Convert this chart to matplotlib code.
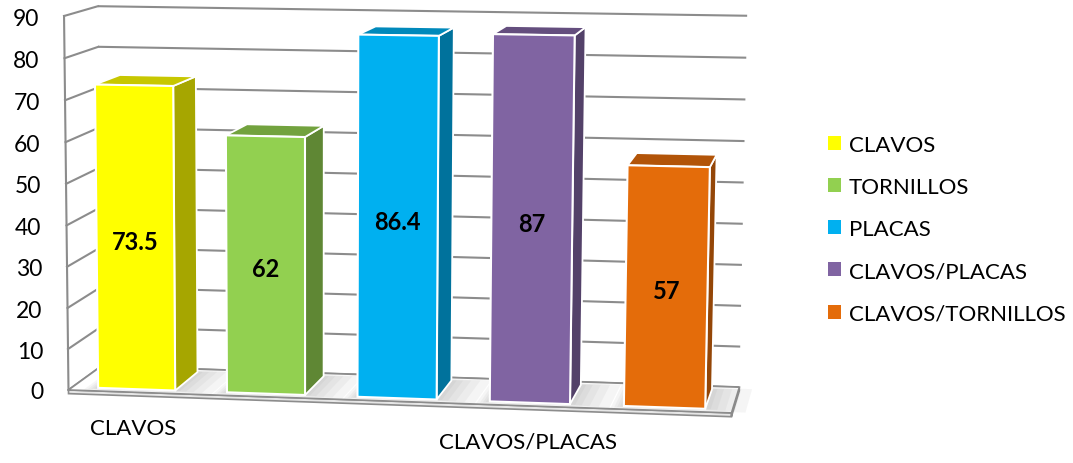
import numpy as np
import matplotlib
matplotlib.use("Agg")
import matplotlib.pyplot as plt
from matplotlib.patches import Polygon, Patch

# ---------------- data ----------------
series_names = ["CLAVOS", "TORNILLOS", "PLACAS", "CLAVOS/PLACAS", "CLAVOS/TORNILLOS"]
values = [73.5, 62, 86.4, 87, 57]
value_labels = ["73.5", "62", "86.4", "87", "57"]
front_colors = ["#FFFF00", "#92D050", "#00B0F0", "#8064A2", "#E46C0A"]
y_ticks = [0, 10, 20, 30, 40, 50, 60, 70, 80, 90]
category_labels = {0: "CLAVOS", 3: "CLAVOS/PLACAS"}

# ---------------- figure ----------------
W, H = 1073, 464
plt.rcParams["font.family"] = ["Lato", "DejaVu Sans"]
fig = plt.figure(figsize=(W / 100, H / 100), dpi=100)
ax = fig.add_axes([0, 0, 1, 1])
ax.set_xlim(0, W)
ax.set_ylim(H, 0)
ax.axis("off")

# ---------------- 3D perspective projection (fitted to the chart box) ----------------
YMAX = y_ticks[-1]
NCAT = len(values)
calib_world = [(0, YMAX, 0), (0, 0, 0), (0, YMAX, 1), (0, 0, 1),
               (NCAT, YMAX, 1), (NCAT, 0, 1), (NCAT, 0, 0)]
calib_px = [(62, 18), (70, 387), (100, 6), (100, 371),
            (747, 17), (739, 385), (732, 417)]
A, b = [], []
for (X, Y, Z), (u, v) in zip(calib_world, calib_px):
    A.append([X, Y, Z, 1, 0, 0, 0, 0, -u * X, -u * Y, -u * Z]); b.append(u)
    A.append([0, 0, 0, 0, X, Y, Z, 1, -v * X, -v * Y, -v * Z]); b.append(v)
m = np.linalg.lstsq(np.array(A, float), np.array(b, float), rcond=None)[0]
M = np.append(m, 1.0).reshape(3, 4)


def P(X, Y, Z):
    h = M @ np.array([X, Y, Z, 1.0])
    return (h[0] / h[2], h[1] / h[2])


GRID = "#8C8C8C"
GLW = 1.5

# back wall gridlines
for t in y_ticks:
    p0, p1 = P(0, t, 1), P(NCAT, t, 1)
    ax.plot([p0[0], p1[0]], [p0[1], p1[1]], color=GRID, lw=GLW, solid_capstyle="butt", zorder=1)
# left wall gridlines
for t in y_ticks:
    p0, p1 = P(0, t, 0), P(0, t, 1)
    ax.plot([p0[0], p1[0]], [p0[1], p1[1]], color=GRID, lw=GLW, zorder=1)
# left wall front edge
p0, p1 = P(0, 0, 0), P(0, YMAX, 0)
ax.plot([p0[0], p1[0]], [p0[1], p1[1]], color=GRID, lw=GLW, zorder=1)

# floor slab
TH = 0.9
floor_top = [P(0, 0, 0), P(NCAT, 0, 0), P(NCAT, 0, 1), P(0, 0, 1)]
floor_front = [P(0, 0, 0), P(NCAT, 0, 0), P(NCAT, -TH, 0), P(0, -TH, 0)]
floor_right = [P(NCAT, 0, 0), P(NCAT, 0, 1), P(NCAT, -TH, 1), P(NCAT, -TH, 0)]
ax.add_patch(Polygon(floor_front, closed=True, fc="#E6E6E6", ec=GRID, lw=1.2, zorder=2))
ax.add_patch(Polygon(floor_right, closed=True, fc="#E6E6E6", ec=GRID, lw=1.2, zorder=2))
ax.add_patch(Polygon(floor_top, closed=True, fc="white", ec=GRID, lw=1.2, zorder=2))

# bars
XG = 0.2
Z0, Z1 = 0.12, 0.88


def shade(hexcol, f):
    c = np.array(matplotlib.colors.to_rgb(hexcol))
    return tuple(c * f)


for i, (val, col) in enumerate(zip(values, front_colors)):
    x0, x1 = i + XG, i + 1 - XG
    # soft shadow on the floor
    for s in [0.30, 0.22, 0.15, 0.09, 0.04]:
        sh = [P(x0 - s * 0.3, 0, Z0 - s * 0.3), P(x1 + s, 0, Z0 - s * 0.3),
              P(x1 + s, 0, Z1 + s * 0.2), P(x0 - s * 0.3, 0, Z1 + s * 0.2)]
        ax.add_patch(Polygon(sh, closed=True, fc="#7F7F7F", ec="none", alpha=0.07, zorder=3))
    front = [P(x0, 0, Z0), P(x1, 0, Z0), P(x1, val, Z0), P(x0, val, Z0)]
    side = [P(x1, 0, Z0), P(x1, 0, Z1), P(x1, val, Z1), P(x1, val, Z0)]
    top = [P(x0, val, Z0), P(x1, val, Z0), P(x1, val, Z1), P(x0, val, Z1)]
    if P(x1, 0, Z1)[0] > P(x1, 0, Z0)[0]:
        ax.add_patch(Polygon(side, closed=True, fc=shade(col, 0.65), ec="white", lw=1.3, zorder=4))
    ax.add_patch(Polygon(top, closed=True, fc=shade(col, 0.78), ec="white", lw=1.3, zorder=4))
    ax.add_patch(Polygon(front, closed=True, fc=col, ec="white", lw=1.5, zorder=5))
    cx, cy = P(i + 0.5, val / 2, Z0)
    ax.text(cx, cy + 3, value_labels[i], ha="center", va="center", fontsize=17,
            fontweight="bold", color="black", zorder=6)

# y tick labels
for t in y_ticks:
    u, v = P(0, t, 0)
    ax.text(u - 25, v + 2, str(t), ha="right", va="center", fontsize=16.5, color="black")

# category labels
for i, lab in category_labels.items():
    u, v = P(i + 0.5, 0, 0)
    ax.text(u, v + 36, lab, ha="center", va="center", fontsize=16, color="black")

# legend
handles = [Patch(facecolor=c, edgecolor="none") for c in front_colors]
ax.legend(handles, series_names, loc="center left", bbox_to_anchor=(828 / W, 1 - 230 / H),
          bbox_transform=fig.transFigure, frameon=False, fontsize=16,
          handlelength=0.6, handleheight=0.6, handletextpad=0.35,
          labelspacing=1.0, borderpad=0, borderaxespad=0)

fig.savefig("out.png", dpi=100)
